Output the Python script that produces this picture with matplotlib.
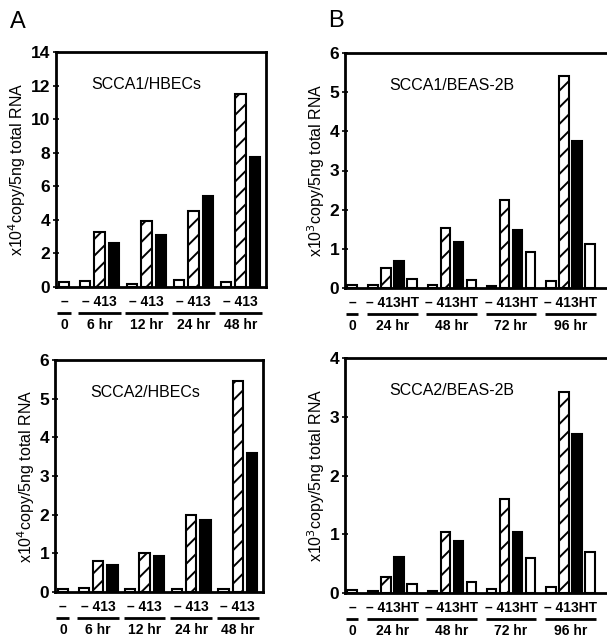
import matplotlib
import matplotlib.pyplot as plt
from matplotlib.transforms import blended_transform_factory

matplotlib.use('Agg')

plt.rcParams['font.family'] = ['Liberation Sans', 'DejaVu Sans']
plt.rcParams['hatch.linewidth'] = 1.4

# SCCA1 / HBECs (x10^4)
times_a = ["0", "6 hr", "12 hr", "24 hr", "48 hr"]
ctrl_a1 = [0.3, 0.35, 0.2, 0.4, 0.3]
il4_a1 = [3.3, 3.95, 4.5, 11.5]
il13_a1 = [2.65, 3.1, 5.45, 7.75]

# SCCA2 / HBECs (x10^4)
ctrl_a2 = [0.08, 0.1, 0.08, 0.08, 0.08]
il4_a2 = [0.8, 1.0, 2.0, 5.45]
il13_a2 = [0.7, 0.92, 1.85, 3.6]

# SCCA1 / BEAS-2B (x10^3)
times_b = ["0", "24 hr", "48 hr", "72 hr", "96 hr"]
ctrl_b1 = [0.08, 0.07, 0.07, 0.06, 0.17]
il4_b1 = [0.5, 1.54, 2.24, 5.42]
il13_b1 = [0.7, 1.17, 1.48, 3.76]
ht_b1 = [0.24, 0.2, 0.93, 1.13]

# SCCA2 / BEAS-2B (x10^3)
ctrl_b2 = [0.05, 0.04, 0.04, 0.07, 0.1]
il4_b2 = [0.27, 1.04, 1.6, 3.42]
il13_b2 = [0.62, 0.88, 1.03, 2.7]
ht_b2 = [0.16, 0.19, 0.6, 0.7]

treat_a = "\u2013 413"
treat_b = "\u2013 413HT"

W, H = 607, 640


def add_axes_px(fig, left, top, right, bottom):
    return fig.add_axes([left / W, 1 - bottom / H, (right - left) / W, (bottom - top) / H])


def draw_panel(ax, title, ylabel, yticks, times, ctrl, series, treat, first, gap, right, hide_right=False):
    """series: list of (values, style) drawn after the control bar in each group."""
    nb = len(series) + 1
    width = 0.72
    kw = dict(width=width, edgecolor='black', linewidth=1.5, zorder=3)
    # time 0: control only
    xs_all = [[first]]
    ax.bar([first], [ctrl[0]], color='white', **kw)
    for g in range(len(times) - 1):
        x0 = gap[0] + g * gap[1]
        xs = [x0 + j for j in range(nb)]
        xs_all.append(xs)
        ax.bar([xs[0]], [ctrl[g + 1]], color='white', **kw)
        for j, (vals, style) in enumerate(series):
            if style == 'hatch':
                ax.bar([xs[j + 1]], [vals[g]], color='white', hatch='//', **kw)
            elif style == 'black':
                ax.bar([xs[j + 1]], [vals[g]], color='black', **kw)
            else:
                ax.bar([xs[j + 1]], [vals[g]], color='white', **kw)

    ax.set_xlim(0, right)
    ax.set_ylim(0, yticks[-1])
    ax.set_yticks(yticks)
    ax.set_xticks([])
    ax.tick_params(axis='y', direction='inout', length=4, width=1.2, pad=2)
    for lab in ax.get_yticklabels():
        lab.set_fontsize(12.5)
        lab.set_fontweight('bold')
    for sp in ax.spines.values():
        sp.set_linewidth(2)
    if hide_right:
        ax.spines['right'].set_visible(False)
    ax.text(0.17, 0.86, title, transform=ax.transAxes,
            fontsize=11.5, ha='left', va='center')
    ax.set_ylabel(ylabel, fontsize=11.5, labelpad=2)

    hpx = ax.get_position().height * H
    tr = blended_transform_factory(ax.transData, ax.transAxes)
    y_lab = -15 / hpx
    y_line = -26 / hpx
    y_time = -38 / hpx
    for gi, xs in enumerate(xs_all):
        name = "\u2013" if gi == 0 else treat
        ax.text((xs[0] + xs[-1]) / 2, y_lab, name, transform=tr, ha='center', va='center',
                fontsize=10, fontweight='bold', clip_on=False)
        ax.plot([xs[0] - 0.45, xs[-1] + 0.45], [y_line, y_line], transform=tr,
                color='black', lw=2, clip_on=False, solid_capstyle='butt')
        ax.text((xs[0] + xs[-1]) / 2, y_time, times[gi], transform=tr, ha='center',
                va='center', fontsize=10, fontweight='bold', clip_on=False)


fig = plt.figure(figsize=(W / 100, H / 100), dpi=100)

ax1 = add_axes_px(fig, 56, 52, 266, 287)
draw_panel(ax1, "SCCA1/HBECs", r"x10$^4$copy/5ng total RNA", list(range(0, 15, 2)), times_a,
           ctrl_a1, [(il4_a1, 'hatch'), (il13_a1, 'black')], treat_a,
           first=0.55, gap=(2.0, 3.24), right=14.48)

ax2 = add_axes_px(fig, 345, 53, 607, 288)
draw_panel(ax2, "SCCA1/BEAS-2B", r"x10$^3$copy/5ng total RNA", list(range(0, 7)), times_b,
           ctrl_b1, [(il4_b1, 'hatch'), (il13_b1, 'black'), (ht_b1, 'open')], treat_b,
           first=0.54, gap=(2.15, 4.56), right=20.15, hide_right=True)

ax3 = add_axes_px(fig, 55, 360, 263, 592)
draw_panel(ax3, "SCCA2/HBECs", r"x10$^4$copy/5ng total RNA", list(range(0, 7)), times_a,
           ctrl_a2, [(il4_a2, 'hatch'), (il13_a2, 'black')], treat_a,
           first=0.55, gap=(2.0, 3.24), right=14.48)

ax4 = add_axes_px(fig, 345, 358, 607, 593)
draw_panel(ax4, "SCCA2/BEAS-2B", r"x10$^3$copy/5ng total RNA", list(range(0, 5)), times_b,
           ctrl_b2, [(il4_b2, 'hatch'), (il13_b2, 'black'), (ht_b2, 'open')], treat_b,
           first=0.54, gap=(2.15, 4.56), right=20.15, hide_right=True)

fig.text(10 / W, 1 - 22 / H, "A", fontsize=17, ha='left', va='center')
fig.text(328 / W, 1 - 21 / H, "B", fontsize=17, ha='left', va='center')

fig.savefig("out.png", dpi=100)
